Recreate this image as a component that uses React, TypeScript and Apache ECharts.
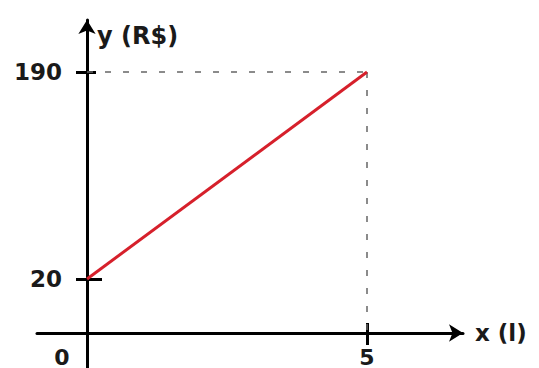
import React, { useEffect, useRef } from "react";
import * as echarts from "echarts";

const X_VALUES = [0, 5];
const Y_VALUES = [20, 190];
const X_TICKS = [0, 5];
const Y_TICKS = [20, 190];
const X_NAME = "x (l)";
const Y_NAME = "y (R$)";

// axis extents (the drawing is not to scale: the x axis sits below y = 0)
const X_MIN = -0.893;
const X_MAX = 6.714;
const Y_MIN = -53.1;
const Y_MAX = 232.7;
const X_AXIS_AT = -24.35; // y value where the x axis is drawn
const X_AXIS_OFFSET = -35;
const Y_AXIS_OFFSET = -50;

const FONT = "DejaVu Sans";
const INK = "#1a1a1a";

export default function App() {
  const ref = useRef<HTMLDivElement>(null);
  useEffect(() => {
    if (!ref.current) return;
    const chart = echarts.init(ref.current, null, { renderer: "svg" });
    const lineData = X_VALUES.map((x, i) => [x, Y_VALUES[i]]);
    const lastX = X_VALUES[X_VALUES.length - 1];
    const lastY = Y_VALUES[Y_VALUES.length - 1];
    const axisCommon = {
      type: "value" as const,
      splitLine: { show: false },
    };
    const tickStyle = { color: "#000", width: 3 };
    const innerY = (value: number, length: number) => ({
      ...axisCommon,
      min: Y_MIN,
      max: Y_MAX,
      position: "left",
      offset: Y_AXIS_OFFSET,
      axisLine: { show: false, onZero: false },
      axisLabel: { show: false },
      axisTick: { show: true, inside: true, customValues: [value], length, lineStyle: tickStyle },
    });
    chart.setOption({
      animation: false,
      backgroundColor: "#ffffff",
      grid: { left: 37, right: 76, top: 20, bottom: 0, containLabel: false, outerBoundsMode: "none" },
      xAxis: [
        {
          ...axisCommon,
          min: X_MIN,
          max: X_MAX,
          position: "bottom",
          offset: X_AXIS_OFFSET,
          name: X_NAME,
          nameLocation: "end",
          nameGap: 12,
          nameTextStyle: {
            fontFamily: FONT,
            fontWeight: "bold",
            fontSize: 23,
            color: INK,
            verticalAlign: "middle",
            padding: [6, 0, 0, 0],
          },
          axisLine: {
            onZero: false,
            symbol: ["none", "arrow"],
            symbolSize: [13, 14],
            lineStyle: { color: "#000", width: 3 },
          },
          axisTick: { show: true, customValues: [X_TICKS[1]], length: 12, lineStyle: tickStyle },
          axisLabel: {
            show: true,
            customValues: X_TICKS,
            margin: 13,
            fontFamily: FONT,
            fontWeight: "bold",
            fontSize: 22,
            color: INK,
            formatter: (v: number) => (v === X_TICKS[0] ? `{o|${v}}` : `{f|${v}}`),
            rich: {
              o: { fontFamily: FONT, fontWeight: "bold", fontSize: 22, color: INK, padding: [0, 50, 0, 0] },
              f: { fontFamily: FONT, fontWeight: "bold", fontSize: 22, color: INK, padding: [0, 0, 0, 0] },
            },
          },
        },
        {
          ...axisCommon,
          min: X_MIN,
          max: X_MAX,
          position: "bottom",
          offset: X_AXIS_OFFSET,
          axisLine: { show: false, onZero: false },
          axisLabel: { show: false },
          axisTick: { show: true, inside: true, customValues: [X_TICKS[1]], length: 10, lineStyle: tickStyle },
        },
      ],
      yAxis: [
        {
          ...axisCommon,
          min: Y_MIN,
          max: Y_MAX,
          position: "left",
          offset: Y_AXIS_OFFSET,
          name: Y_NAME,
          nameLocation: "end",
          nameGap: -16,
          nameTextStyle: {
            fontFamily: FONT,
            fontWeight: "bold",
            fontSize: 24,
            color: INK,
            align: "left",
            verticalAlign: "middle",
            padding: [0, 0, 0, 10],
          },
          axisLine: {
            onZero: false,
            symbol: ["none", "arrow"],
            symbolSize: [13, 14],
            lineStyle: { color: "#000", width: 3 },
          },
          axisTick: { show: true, customValues: Y_TICKS, length: 11, lineStyle: tickStyle },
          axisLabel: {
            show: true,
            customValues: Y_TICKS,
            margin: 25,
            fontFamily: FONT,
            fontWeight: "bold",
            fontSize: 23,
            color: INK,
          },
        },
        innerY(Y_TICKS[1], 9),
        innerY(Y_TICKS[0], 15),
      ],
      series: [
        {
          type: "line",
          data: lineData,
          xAxisIndex: 0,
          yAxisIndex: 0,
          showSymbol: false,
          lineStyle: { color: "#d6202b", width: 3 },
          z: 5,
          markLine: {
            silent: true,
            symbol: ["none", "none"],
            label: { show: false },
            lineStyle: { color: "#666", width: 1.5, type: [6, 12] },
            data: [
              [{ coord: [X_VALUES[0], lastY] }, { coord: [lastX, lastY] }],
              [{ coord: [lastX, lastY] }, { coord: [lastX, X_AXIS_AT] }],
            ],
          },
        },
      ],
    });
    return () => chart.dispose();
  }, []);
  return (
    <div
      ref={ref}
      style={{ position: "fixed", left: 0, top: 0, width: 539, height: 368, background: "#fff" }}
    />
  );
}
